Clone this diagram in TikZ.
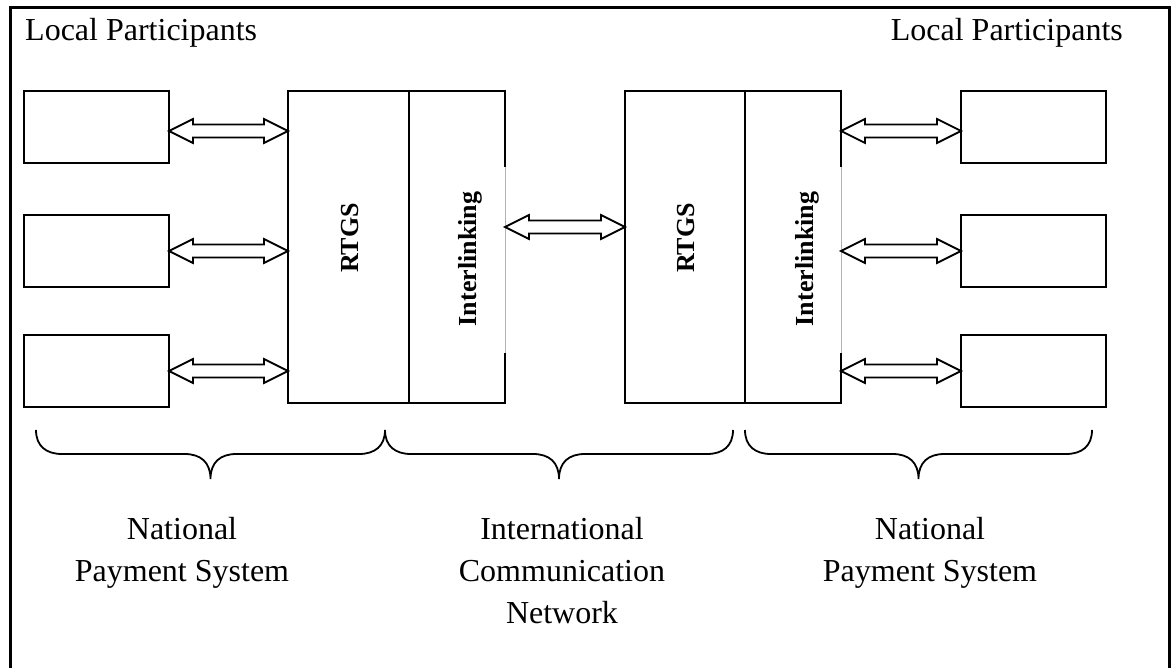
\documentclass[tikz,border=0pt]{standalone}
\usepackage{fontspec}
\setmainfont{Liberation Serif}
\usetikzlibrary{calc}

% hollow two-headed arrow between two node anchors, at a given height
\newcommand\twoway[3]{%
  \path[arrowline] let \p1=(#1), \p2=(#2), \p3=(0,#3) in
    (\x1,\y3) -- (\x1+24pt,\y3+12pt) -- (\x1+24pt,\y3+6.5pt)
    -- (\x2-24pt,\y3+6.5pt) -- (\x2-24pt,\y3+12pt) -- (\x2,\y3)
    -- (\x2-24pt,\y3-12pt) -- (\x2-24pt,\y3-6.5pt)
    -- (\x1+24pt,\y3-6.5pt) -- (\x1+24pt,\y3-12pt) -- cycle;}

% curly brace opening upwards, from x=#1 to x=#2
\newcommand\groupbrace[2]{%
  \pgfmathsetmacro\gbmid{(#1+#2)/2}%
  \draw[bracestyle] (#1,430) .. controls (#1,446) and (#1+10,454) .. (#1+26,454)
    -- (\gbmid-26,454) .. controls (\gbmid-10,454) and (\gbmid,462) .. (\gbmid,479)
    .. controls (\gbmid,462) and (\gbmid+10,454) .. (\gbmid+26,454)
    -- (#2-26,454) .. controls (#2-10,454) and (#2,446) .. (#2,430);}

\begin{document}
\begin{tikzpicture}[x=1pt,y=-1pt,
  party/.style={draw, line width=2pt, minimum width=145pt, minimum height=72pt,
    inner sep=0pt, outer sep=0pt},
  block/.style={draw, line width=2pt, minimum height=312pt, inner sep=0pt, outer sep=0pt},
  lbl/.style={font=\fontsize{32}{42}\selectfont, align=center, inner sep=0pt},
  vert/.style={font=\fontsize{26}{30}\selectfont\bfseries, rotate=90, inner sep=0pt},
  arrowline/.style={draw, line width=1.8pt, fill=white, line join=miter},
  bracestyle/.style={line width=1.8pt},
  thinedge/.style={draw=gray!60, line width=0.8pt}]
\useasboundingbox (0,0) rectangle (1171,668);

% outer frame, open at the bottom
\draw[line width=3pt] (10.5,668) -- (10.5,8) -- (1169.5,8) -- (1169.5,668);

% headings
\node[lbl, anchor=base west] (ltop) at (25,41) {Local Participants};
\node[lbl, anchor=base east] (rtop) at (1123,41) {Local Participants};

% left system: RTGS + Interlinking
\node[block, minimum width=121pt] (lrtgs) at (348.5,247) {};
\node[block, minimum width=96pt] (lint) at (457,247) {};
\draw[white, line width=3pt] (505,167) -- (505,353);
\draw[thinedge] (505,167) -- (505,353);
\node[vert] (lrtgsl) at (350,238) {RTGS};
\node[vert] (lintl) at (470,259) {Interlinking};

% right system: RTGS + Interlinking
\node[block, minimum width=120pt] (rrtgs) at (685,247) {};
\node[block, minimum width=96pt] (rint) at (793,247) {};
\draw[white, line width=3pt] (841,167) -- (841,353);
\draw[thinedge] (841,167) -- (841,353);
\node[vert] (rrtgsl) at (686,238) {RTGS};
\node[vert] (rintl) at (807,259) {Interlinking};

% local participants
\node[party] (lp1) at (96.5,127) {};
\node[party] (lp2) at (96.5,251) {};
\node[party] (lp3) at (96.5,371) {};
\node[party] (rp1) at (1033.5,127) {};
\node[party] (rp2) at (1033.5,251) {};
\node[party] (rp3) at (1033.5,371) {};

% links
\twoway{lp1.east}{lrtgs.west}{131}
\twoway{lp2.east}{lrtgs.west}{251}
\twoway{lp3.east}{lrtgs.west}{371}
\twoway{lint.east}{rrtgs.west}{227}
\twoway{rint.east}{rp1.west}{131}
\twoway{rint.east}{rp2.west}{251}
\twoway{rint.east}{rp3.west}{371}

% groupings
\groupbrace{36}{385}
\groupbrace{385}{733}
\groupbrace{745}{1092}

\node[lbl, anchor=north] (lnps) at (182,517) {National\\Payment System};
\node[lbl, anchor=north] (icn) at (562,517) {International\\Communication\\Network};
\node[lbl, anchor=north] (rnps) at (930,517) {National\\Payment System};
\end{tikzpicture}
\end{document}
